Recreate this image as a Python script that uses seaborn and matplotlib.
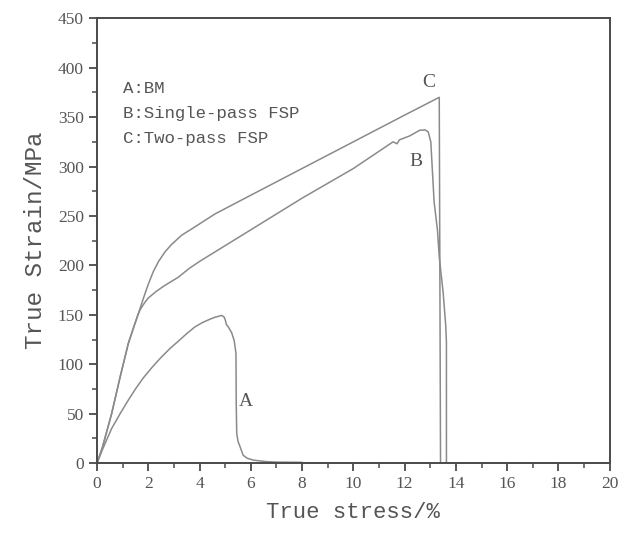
import numpy as np
import pandas as pd
import matplotlib
matplotlib.use("Agg")
import matplotlib.pyplot as plt
from matplotlib.ticker import MultipleLocator
import seaborn as sns

# curve A: BM
a_x = [0, 0.2, 0.57, 0.9, 1.22, 1.5, 1.8, 2.15, 2.52, 2.85, 3.2, 3.5, 3.82, 4.1,
       4.4, 4.6, 4.86, 4.95, 5.0, 5.05, 5.12, 5.25, 5.35, 5.42, 5.43, 5.45, 5.5,
       5.58, 5.70, 5.85, 6.1, 6.6, 7.0, 8.0]
a_y = [0, 13, 35, 50, 63.7, 75, 86, 97, 107.5, 116, 124, 131, 137.8, 142,
       145.5, 147.5, 149.4, 148, 145, 140, 137.8, 132, 124, 111, 60, 30, 22,
       16.5, 8, 5, 3, 1.5, 1, 0.8]

# curve B: single-pass FSP
b_x = [0, 0.2, 0.57, 0.9, 1.22, 1.45, 1.61, 1.7, 1.85, 2.0, 2.3, 2.6, 3.17, 3.6,
       4.0, 4.6, 6, 8, 10, 11.55, 11.7, 11.8, 12.2, 12.59, 12.8, 12.92, 13.02,
       13.15, 13.28, 13.35, 13.5, 13.6, 13.63, 13.63]
b_y = [0, 15, 50, 87, 121, 139, 151, 156, 162, 167, 173.5, 179, 188, 197,
       204, 213.6, 236, 268, 298, 325, 323, 327, 331, 336.7, 337, 335, 325,
       264, 235.6, 208.6, 173, 140, 122.6, 0]

# curve C: two-pass FSP
c_x = [0, 0.2, 0.57, 0.9, 1.22, 1.45, 1.61, 1.8, 2.0, 2.2, 2.4, 2.65, 2.9, 3.3,
       3.7, 4.0, 4.6, 6, 8, 10, 12, 12.6, 13.35, 13.4]
c_y = [0, 15, 50, 87, 121, 139, 151, 166, 181, 194, 204, 213.6, 221, 230.5,
       237, 242, 252, 271, 298, 325, 352, 360, 370, 0]

legend_lines = ["A:BM", "B:Single-pass FSP", "C:Two-pass FSP"]

frames = []
for name, xs, ys in [("A", a_x, a_y), ("B", b_x, b_y), ("C", c_x, c_y)]:
    frames.append(pd.DataFrame({"strain": xs, "stress": ys, "curve": name}))
df = pd.concat(frames, ignore_index=True)

sns.set_style("white")
plt.rcParams["font.family"] = ["Liberation Serif", "DejaVu Sans"]

fig = plt.figure(figsize=(6.26, 5.36), dpi=100)
ax = fig.add_axes([0.155, 0.136, 0.819, 0.83])

line_col = "#8a8a8a"
sns.lineplot(data=df, x="strain", y="stress", units="curve", estimator=None,
             sort=False, color=line_col, linewidth=1.1, ax=ax, legend=False)

ax.set_xlim(0, 20)
ax.set_ylim(0, 450)
ax.xaxis.set_major_locator(MultipleLocator(2))
ax.xaxis.set_minor_locator(MultipleLocator(1))
ax.yaxis.set_major_locator(MultipleLocator(50))
ax.yaxis.set_minor_locator(MultipleLocator(25))

txt_col = "#555555"
spine_col = "#4a4a4a"
for s in ax.spines.values():
    s.set_color(spine_col)
    s.set_linewidth(1.4)
ax.tick_params(which="major", direction="out", length=6, width=1.3, color=spine_col,
               labelsize=12.5, labelcolor=txt_col, bottom=True, left=True)
ax.tick_params(which="minor", direction="out", length=3.5, width=1.1, color=spine_col,
               bottom=True, left=True)

mono = "Liberation Mono"
ax.set_xlabel("True stress/%", family=mono, fontsize=16, color=txt_col, labelpad=7)
ax.set_ylabel("True Strain/MPa", family=mono, fontsize=17.5, color=txt_col, labelpad=8)

for i, t in enumerate(legend_lines):
    ax.text(1.0, 379 - i * 25.3, t, family=mono, fontsize=12.5, color=txt_col,
            va="center", ha="left")

ax.text(5.8, 62, "A", fontsize=14, color=txt_col, ha="center", va="center")
ax.text(12.46, 305, "B", fontsize=14, color=txt_col, ha="center", va="center")
ax.text(12.95, 385, "C", fontsize=14, color=txt_col, ha="center", va="center")

fig.savefig("out.png", dpi=100)
